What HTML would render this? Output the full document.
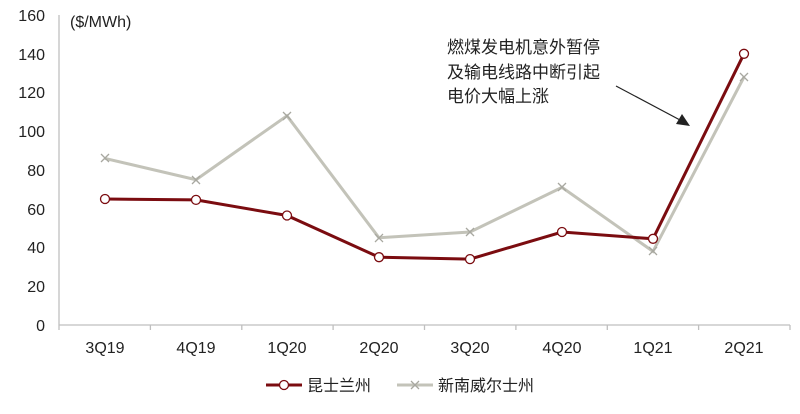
<!DOCTYPE html><html><head><style>body{margin:0;background:#fff}</style></head><body>
<svg width="800" height="409" xmlns="http://www.w3.org/2000/svg" font-family="Liberation Sans, Noto Sans CJK SC, sans-serif">
<g stroke="#bfbfbf" stroke-width="1.3" fill="none">
<line x1="59" y1="15" x2="59" y2="325"/>
<line x1="59" y1="325" x2="790" y2="325"/>
<path d="M59 325v5M150.4 325v5M241.8 325v5M333.1 325v5M424.5 325v5M515.9 325v5M607.3 325v5M698.6 325v5M790 325v5"/>
</g>
<g font-size="16" fill="#222" text-anchor="end">
<text x="45" y="331">0</text><text x="45" y="292">20</text><text x="45" y="253">40</text><text x="45" y="215">60</text><text x="45" y="176">80</text><text x="45" y="137">100</text><text x="45" y="98">120</text><text x="45" y="60">140</text><text x="45" y="21">160</text>
</g>
<text x="70" y="27" font-size="16" fill="#222">($/MWh)</text>
<g font-size="16" fill="#222" text-anchor="middle">
<text x="105" y="353">3Q19</text><text x="196" y="353">4Q19</text><text x="287" y="353">1Q20</text><text x="379" y="353">2Q20</text><text x="470" y="353">3Q20</text><text x="562" y="353">4Q20</text><text x="653" y="353">1Q21</text><text x="744" y="353">2Q21</text>
</g>
<polyline fill="none" stroke="#c3c3b9" stroke-width="3" points="105,158.4 196,179.7 287,115.8 379,237.8 470,232 562,187.4 653,251.4 744,77"/>
<g stroke="#a8a8a0" stroke-width="1.3">
<path d="M101 154l8 8M109 154l-8 8M192 176l8 8M200 176l-8 8M283 112l8 8M291 112l-8 8M375 234l8 8M383 234l-8 8M466 228l8 8M474 228l-8 8M558 183l8 8M566 183l-8 8M649 247l8 8M657 247l-8 8M740 73l8 8M748 73l-8 8"/>
</g>
<polyline fill="none" stroke="#7b0c10" stroke-width="3" points="105,199 196,199.9 287,215.5 379,257.2 470,259.1 562,232 653,238.8 744,53.8"/>
<g fill="#fff" stroke="#7b0c10" stroke-width="1.3">
<circle cx="105" cy="199" r="4.5"/><circle cx="196" cy="199.9" r="4.5"/><circle cx="287" cy="215.5" r="4.5"/><circle cx="379" cy="257.2" r="4.5"/><circle cx="470" cy="259.1" r="4.5"/><circle cx="562" cy="232" r="4.5"/><circle cx="653" cy="238.8" r="4.5"/><circle cx="744" cy="53.8" r="4.5"/>
</g>
<g font-size="17" fill="#222"><text x="447" y="53">燃煤发电机意外暂停</text><text x="447" y="78">及输电线路中断引起</text><text x="447" y="102">电价大幅上涨</text></g>
<line x1="616" y1="86" x2="680" y2="120" stroke="#222" stroke-width="1.2"/>
<polygon points="690,126 676,124 682,114" fill="#222"/>
<line x1="266" y1="385" x2="302" y2="385" stroke="#7b0c10" stroke-width="3"/>
<circle cx="284" cy="385" r="4.5" fill="#fff" stroke="#7b0c10" stroke-width="1.3"/>
<text x="307" y="391" font-size="16" fill="#222">昆士兰州</text>
<line x1="397" y1="385" x2="433" y2="385" stroke="#c3c3b9" stroke-width="3"/>
<path d="M411 381l8 8M419 381l-8 8" stroke="#a8a8a0" stroke-width="1.3"/>
<text x="438" y="391" font-size="16" fill="#222">新南威尔士州</text>
</svg></body></html>
